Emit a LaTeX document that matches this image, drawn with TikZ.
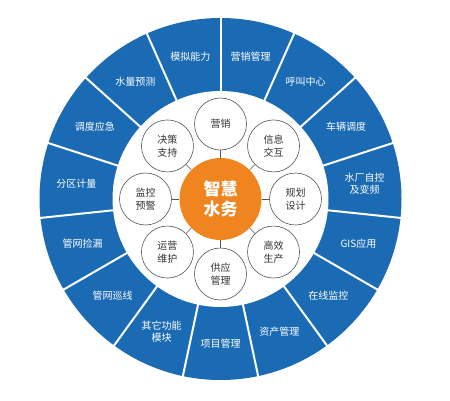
\documentclass[tikz,border=0pt]{standalone}
\usepackage{fontspec}
\usetikzlibrary{calc}
\newfontfamily\cjk{Noto Sans CJK SC}
\definecolor{ringblue}{HTML}{1B6BB4}
\definecolor{corange}{HTML}{F0851F}
\definecolor{cgray}{HTML}{555555}
\definecolor{ctext}{HTML}{333333}
\tikzset{
  ringlabel/.style={text=white,font=\cjk\fontsize{10}{12.5}\selectfont,align=center,inner sep=0pt},
  smallcirc/.style={circle,draw=cgray,line width=0.6pt,fill=white,minimum size=52pt,inner sep=0pt,text=ctext,font=\cjk\fontsize{10}{12.5}\selectfont,align=center},
  centercirc/.style={circle,fill=corange,minimum size=82pt,inner sep=0pt,text=white,font=\cjk\bfseries\fontsize{17}{20.5}\selectfont,align=center},
  conn/.style={draw=cgray,line width=0.5pt},
  divider/.style={draw=white,line width=2pt}
}
\begin{document}
\begin{tikzpicture}[x=1pt,y=1pt]
\useasboundingbox (0,0) rectangle (450,400);
\coordinate (O) at (220.5,201);
% outer ring
\fill[ringblue] (O) circle (181);
\foreach \k in {0,...,14}{
  \draw[divider] ($(O)+({90-24*\k}:100)$) -- ($(O)+({90-24*\k}:183)$);
}
\fill[white] (O) circle (108);
% ring labels
\foreach \t [count=\i from 0] in {营销管理,呼叫中心,车辆调度,{水厂自控\\及变频},GIS应用,在线监控,资产管理,项目管理,{其它功能\\模块},管网巡线,管网捡漏,分区计量,调度应急,水量预测,模拟能力}{
  \node[ringlabel] (r\i) at ($(O)+({78-24*\i}:145)$) {\t};
}
% center
\node[centercirc] (c) at (O) {智慧\\水务};
\foreach \t [count=\i from 0] in {营销,信息\\交互,规划\\设计,高效\\生产,供应\\管理,运营\\维护,监控\\预警,决策\\支持}{
  \node[smallcirc] (s\i) at ($(O)+({90-45*\i}:75)$) {\t};
  \draw[conn] (c) -- (s\i);
}
\end{tikzpicture}
\end{document}
